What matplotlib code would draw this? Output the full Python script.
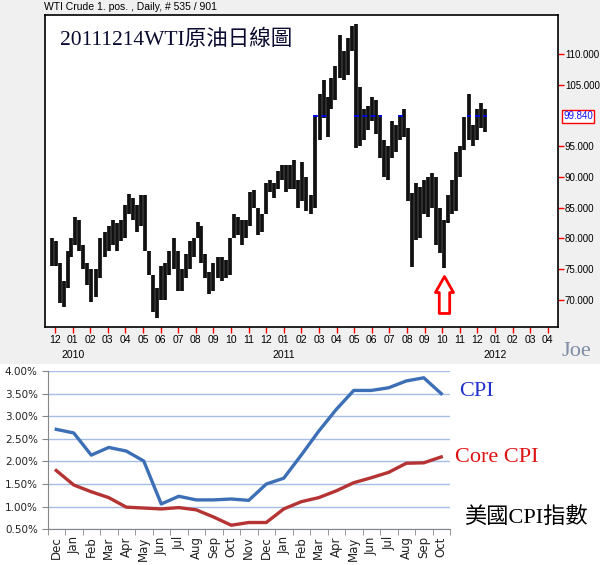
import calendar

import matplotlib
matplotlib.use("Agg")

import matplotlib.pyplot as plt
import matplotlib.transforms as mtransforms
import pandas as pd
from matplotlib.patches import Rectangle


# WTI weekly ranges (week starting Monday)
WEEK_START = "2009-11-23"
WTI_LOW = [
    75.5, 75.5, 69.5, 68.9, 72.0, 77.0, 79.0, 78.0, 75.0, 72.5,
    69.7, 70.5, 73.5, 77.0, 78.0, 79.0, 78.0, 79.5, 80.0, 84.0,
    83.0, 81.0, 82.0, 78.0, 74.0, 68.0, 67.0, 70.0, 70.0, 74.0,
    75.0, 71.5, 71.5, 73.5, 75.0, 77.0, 80.0, 76.0, 73.5, 71.0,
    71.5, 73.5, 73.0, 73.5, 74.0, 80.0, 80.5, 79.0, 80.0, 82.0,
    85.0, 80.5, 81.0, 84.0, 87.5, 86.5, 88.0, 89.5, 87.5, 88.0,
    88.0, 85.0, 86.0, 84.5, 84.0, 85.0, 96.0, 99.5, 96.5, 101.0,
    102.5, 106.0, 105.8, 106.5, 110.5, 94.7, 95.0, 96.0, 97.6, 99.0,
    97.0, 93.0, 90.0, 89.5, 93.0, 94.0, 96.0, 96.5, 86.0, 75.4,
    79.8, 80.0, 84.0, 83.5, 85.0, 79.0, 77.6, 75.2, 82.5, 84.0,
    84.5, 90.0, 94.4, 96.0, 95.0, 96.0, 98.0, 97.3,
]
WTI_HIGH = [
    80.0, 79.5, 76.0, 73.0, 78.0, 80.0, 83.5, 83.0, 79.0, 76.0,
    75.0, 75.0, 80.0, 81.0, 82.0, 83.0, 82.5, 83.0, 85.5, 87.2,
    86.5, 85.5, 87.0, 87.0, 78.0, 74.0, 72.0, 75.5, 76.0, 78.0,
    80.0, 78.0, 75.0, 77.5, 79.5, 80.0, 82.7, 82.0, 77.5, 74.5,
    76.0, 77.0, 77.0, 76.5, 80.0, 84.0, 83.5, 83.0, 83.0, 87.5,
    87.9, 85.0, 84.0, 89.0, 89.5, 89.0, 91.0, 92.0, 92.0, 92.0,
    92.8, 89.5, 92.4, 90.0, 87.0, 100.0, 103.5, 105.8, 103.0, 106.0,
    108.0, 113.0, 110.5, 112.5, 114.5, 114.8, 104.6, 101.0, 101.5, 103.0,
    102.5, 100.0, 96.0, 95.0, 99.0, 98.5, 100.0, 101.0, 98.0, 87.4,
    89.0, 88.4, 89.5, 90.0, 90.6, 90.0, 85.0, 83.0, 87.0, 89.5,
    94.0, 95.0, 99.8, 103.4, 98.5, 101.0, 102.0, 101.0,
]
LAST_PRICE = 99.84

# month ticks Dec 2009 .. Apr 2012
MONTH_LABELS = ["12", "01", "02", "03", "04", "05", "06", "07", "08", "09",
                "10", "11", "12", "01", "02", "03", "04", "05", "06", "07",
                "08", "09", "10", "11", "12", "01", "02", "03", "04"]
YEAR_LABELS = ["2010", "2011", "2012"]
PRICE_TICKS = [70, 75, 80, 85, 90, 95, 105, 110]

# US CPI yoy (%), Dec 2009 .. Oct 2011
CPI_MONTHS = ["Dec", "Jan", "Feb", "Mar", "Apr", "May", "Jun", "Jul", "Aug",
              "Sep", "Oct", "Nov", "Dec", "Jan", "Feb", "Mar", "Apr", "May",
              "Jun", "Jul", "Aug", "Sep", "Oct"]
CPI = [2.71, 2.63, 2.14, 2.31, 2.23, 2.01, 1.06, 1.23, 1.15, 1.15, 1.17, 1.14,
       1.50, 1.63, 2.14, 2.67, 3.15, 3.57, 3.57, 3.63, 3.78, 3.85, 3.50]
CORE_CPI = [1.80, 1.48, 1.33, 1.20, 0.99, 0.97, 0.95, 0.98, 0.93, 0.77, 0.59,
            0.65, 0.65, 0.95, 1.11, 1.20, 1.35, 1.53, 1.64, 1.76, 1.96, 1.97,
            2.10]

W, H = 600, 565
SERIF_CJK = ["Liberation Serif", "Noto Sans CJK TC"]


def month_pos(d):
    # months since 2009-12-01
    days = calendar.monthrange(d.year, d.month)[1]
    return (d.year - 2009) * 12 + d.month - 12 + (d.day - 1) / days


def fx(px):
    return px / W


def fy(py):
    return 1 - py / H


fig = plt.figure(figsize=(W / 100, H / 100), dpi=100)
fig.patch.set_facecolor("white")
fig.patches.append(Rectangle((0, fy(364)), 1, 1 - fy(364), transform=fig.transFigure,
                             facecolor="#f0f0f0", edgecolor="none", zorder=-10))

# ---------------- WTI daily chart ----------------
ax = fig.add_axes([fx(45), fy(327), fx(513), 312 / H])
ax.set_facecolor("white")

dates = pd.date_range(WEEK_START, periods=len(WTI_HIGH), freq="7D") + pd.Timedelta(days=2)
xs = [month_pos(d) for d in dates]
ax.vlines(xs, WTI_LOW, WTI_HIGH, color="#111111", lw=2.7, zorder=3)

# blue dashes where the bars cross the last price
half = (xs[1] - xs[0]) / 2
seg = None
segments = []
for x, lo, hi in zip(xs, WTI_LOW, WTI_HIGH):
    if lo <= LAST_PRICE <= hi:
        if seg is None:
            seg = [x - half, x + half]
        else:
            seg[1] = x + half
    elif seg is not None:
        segments.append(seg)
        seg = None
if seg is not None:
    segments.append(seg)
for a, b in segments:
    ax.hlines(LAST_PRICE, a, b, colors="#0000ff", linestyles=(0, (3, 2)), lw=1.2, zorder=4)

ax.set_xlim(-0.57, 28.58)
ax.set_ylim(65.6, 116.3)
ax.yaxis.tick_right()
ax.set_yticks(PRICE_TICKS)
ax.set_yticklabels([f"{v:.3f}" for v in PRICE_TICKS])
ax.set_xticks(range(len(MONTH_LABELS)))
ax.set_xticklabels(MONTH_LABELS)
ax.tick_params(axis="both", direction="out", length=4, width=1, color="red",
               labelcolor="black", labelsize=7.5, pad=2)
ax.tick_params(axis="y", labelsize=7, pad=1)
for lab in ax.get_xticklabels() + ax.get_yticklabels():
    lab.set_family("Liberation Sans")
for sp in ax.spines.values():
    sp.set_color("black")
    sp.set_linewidth(1.2)

trans = mtransforms.blended_transform_factory(ax.transData, ax.transAxes)
for i, year in enumerate(YEAR_LABELS):
    ax.text(1 + 12 * i, -0.09, year, transform=trans, ha="center", va="center",
            fontsize=7.5, family="Liberation Sans")

trans_r = mtransforms.blended_transform_factory(ax.transAxes, ax.transData)
ax.text(1.01, LAST_PRICE, f"{LAST_PRICE:.3f}", transform=trans_r, ha="left", va="center",
        fontsize=7, family="Liberation Sans", color="#1010ff",
        bbox=dict(boxstyle="square,pad=0.15", fc="white", ec="red", lw=1))

# red hollow arrow under the Oct 2011 low
i_low = min(range(90, len(WTI_LOW)), key=lambda i: WTI_LOW[i])
ax.annotate("", xy=(xs[i_low], WTI_LOW[i_low] - 1.4), xytext=(xs[i_low], WTI_LOW[i_low] - 7.4),
            arrowprops=dict(arrowstyle="simple,head_length=1.15,head_width=1.3,tail_width=0.75",
                            mutation_scale=10, fc="white", ec="red", lw=2,
                            shrinkA=0, shrinkB=0))

fig.text(fx(44), fy(7), "WTI Crude 1. pos. , Daily, # 535 / 901", fontsize=7.5,
         family="Liberation Sans", va="center", ha="left")
fig.text(fx(60), fy(40), "20111214WTI原油日線圖", fontsize=15.5, family=SERIF_CJK,
         color="#0a0a30", va="center", ha="left")
fig.text(fx(561), fy(351), "Joe", fontsize=16, family="Liberation Serif",
         color="#7f8ea8", va="center", ha="left")

# ---------------- CPI chart ----------------
cax = fig.add_axes([fx(47.5), fy(529.3), fx(402.5), 158.3 / H])
pos = range(len(CPI_MONTHS))
cax.plot(pos, CPI, color="#3d6fb6", lw=2.4, zorder=3)
cax.plot(pos, CORE_CPI, color="#b53333", lw=2.4, zorder=3)

cax.set_xlim(-0.5, len(CPI_MONTHS) - 0.5)
cax.set_ylim(0.5, 4.0)
yt = [0.5 + 0.5 * k for k in range(8)]
cax.set_yticks(yt)
cax.set_yticklabels([f"{v:.2f}%" for v in yt])
cax.set_xticks(list(pos))
cax.set_xticklabels(CPI_MONTHS, rotation=90)
cax.set_xticks([k + 0.5 for k in range(-1, len(CPI_MONTHS))], minor=True)
cax.tick_params(axis="x", which="major", length=0, labelsize=8.5, pad=5, labelcolor="#222222")
cax.tick_params(axis="x", which="minor", length=4, color="#868686")
cax.tick_params(axis="y", length=4, color="#868686", labelsize=7.5, labelcolor="#222222", pad=3)
cax.grid(axis="y", color="#a6bde6", lw=1)
cax.set_axisbelow(True)
for name in ["top", "right"]:
    cax.spines[name].set_visible(False)
for name in ["left", "bottom"]:
    cax.spines[name].set_color("#868686")

fig.text(fx(459), fy(392), "CPI", fontsize=16, family="Liberation Serif",
         color="#2233cc", va="center", ha="left")
fig.text(fx(455), fy(458), "Core CPI", fontsize=16, family="Liberation Serif",
         color="#dd1111", va="center", ha="left")
fig.text(fx(464), fy(517), "美國CPI指數", fontsize=16, family=SERIF_CJK,
         color="black", va="center", ha="left")

fig.savefig("out.png", dpi=100)
